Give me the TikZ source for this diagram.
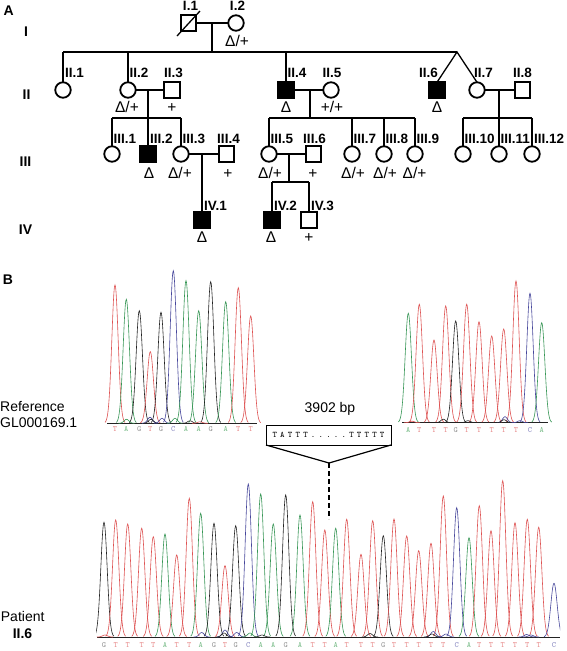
\documentclass[tikz,border=0pt]{standalone}
\usepackage{fontspec}
\setmainfont{Liberation Sans}
\usetikzlibrary{calc}
\definecolor{trT}{RGB}{222,82,82}
\definecolor{trA}{RGB}{55,150,85}
\definecolor{trG}{RGB}{35,35,35}
\definecolor{trC}{RGB}{70,70,155}
\definecolor{ltT}{RGB}{232,140,140}
\definecolor{ltA}{RGB}{125,190,140}
\definecolor{ltG}{RGB}{150,150,150}
\definecolor{ltC}{RGB}{140,140,195}
\newcommand\seqch[1]{\makebox[7.67pt]{#1}}
\begin{document}
\begin{tikzpicture}[x=1pt,y=-1pt,
  sym/.style={draw, line width=1.8pt, inner sep=0pt, outer sep=0pt, minimum size=15.5pt},
  male/.style={sym, rectangle},
  female/.style={sym, circle},
  aff/.style={fill=black},
  pline/.style={line width=1.3pt},
  lab/.style={font=\fontsize{13.5}{15}\selectfont\bfseries, inner sep=0pt},
  geno/.style={font=\fontsize{15.5}{17}\selectfont, inner sep=0pt, anchor=base},
  gen/.style={font=\fontsize{14}{16}\selectfont\bfseries, inner sep=0pt, anchor=base},
  side/.style={font=\fontsize{14}{16}\selectfont, inner sep=0pt, anchor=base west},
  seq/.style={font=\fontsize{8}{9}\selectfont\ttfamily, inner sep=0pt, anchor=base},
  trace/.style={line width=0.6pt},
]
\useasboundingbox (0,0) rectangle (567,651);
\fill[white] (0,0) rectangle (567,651);

% panel letters and generations
\node[gen] (pA) at (8.7,15) {A};
\node[gen] (pB) at (8,284) {B};
\node[gen] (gI) at (26,36) {I};
\node[gen] (gII) at (26.5,99.3) {II};
\node[gen] (gIII) at (25.5,166) {III};
\node[gen] (gIV) at (25.5,234) {IV};

% ---------- pedigree symbols ----------
\node[male] (I1) at (188.5,23) {};
\node[female] (I2) at (236,23) {};
\draw[pline] ($(I1)+(-11.5,13)$) -- ($(I1)+(11.5,-12)$);

\node[female] (II1) at (63,90) {};
\node[female] (II2) at (128,90) {};
\node[male] (II3) at (172,90) {};
\node[male,aff] (II4) at (286,90) {};
\node[female] (II5) at (331,90) {};
\node[male,aff] (II6) at (437,90) {};
\node[female] (II7) at (477,90) {};
\node[male] (II8) at (522.5,90) {};

\node[female] (III1) at (112,154) {};
\node[male,aff] (III2) at (148,154) {};
\node[female] (III3) at (181,154) {};
\node[male] (III4) at (226.5,154) {};
\node[female] (III5) at (269,154) {};
\node[male] (III6) at (313.5,154) {};
\node[female] (III7) at (352,154) {};
\node[female] (III8) at (384,154) {};
\node[female] (III9) at (415,154) {};
\node[female] (III10) at (463,154) {};
\node[female] (III11) at (499,154) {};
\node[female] (III12) at (532,154) {};

\node[male,aff] (IV1) at (202,220) {};
\node[male,aff] (IV2) at (272,220) {};
\node[male] (IV3) at (309,220) {};

% ---------- pedigree lines ----------
\coordinate (mI) at (212,23);
\coordinate (sI) at (212,52);
\coordinate (tw) at (457,52);
\draw[pline] (I1.east) -- (I2.west);
\draw[pline] (mI) -- (sI);
\draw[pline] (II1.north |- sI) -- (tw);
\draw[pline] (II1.north) -- (II1.north |- sI);
\draw[pline] (II2.north) -- (II2.north |- sI);
\draw[pline] (II4.north) -- (II4.north |- sI);
\draw[pline] (II6.north) -- (tw) -- (II7.north);

\coordinate (m2) at (148,90);
\coordinate (s2) at (148,118);
\draw[pline] (II2.east) -- (II3.west);
\draw[pline] (m2) -- (s2);
\draw[pline] (III1.north |- s2) -- (III3.north |- s2);
\draw[pline] (III1.north) -- (III1.north |- s2);
\draw[pline] (III2.north) -- (III2.north |- s2);
\draw[pline] (III3.north) -- (III3.north |- s2);

\coordinate (m3) at (202,154);
\draw[pline] (III3.east) -- (III4.west);
\draw[pline] (m3) -- (IV1.north);

\coordinate (m4) at (310,90);
\coordinate (s4) at (310,118);
\draw[pline] (II4.east) -- (II5.west);
\draw[pline] (m4) -- (s4);
\draw[pline] (III5.north |- s4) -- (III9.north |- s4);
\draw[pline] (III5.north) -- (III5.north |- s4);
\draw[pline] (III7.north) -- (III7.north |- s4);
\draw[pline] (III8.north) -- (III8.north |- s4);
\draw[pline] (III9.north) -- (III9.north |- s4);

\coordinate (m5) at (289,154);
\coordinate (s5) at (289,182);
\draw[pline] (III5.east) -- (III6.west);
\draw[pline] (m5) -- (s5);
\draw[pline] (IV2.north |- s5) -- (IV3.north |- s5);
\draw[pline] (IV2.north) -- (IV2.north |- s5);
\draw[pline] (IV3.north) -- (IV3.north |- s5);

\coordinate (m7) at (499,90);
\coordinate (s7) at (499,118);
\draw[pline] (II7.east) -- (II8.west);
\draw[pline] (m7) -- (s7);
\draw[pline] (III10.north |- s7) -- (III12.north |- s7);
\draw[pline] (III10.north) -- (III10.north |- s7);
\draw[pline] (III11.north) -- (III11.north |- s7);
\draw[pline] (III12.north) -- (III12.north |- s7);

% ---------- pedigree labels ----------
\node[lab, anchor=base] (lI1) at (190.5,10) {I.1};
\node[lab, anchor=base] (lI2) at (237.5,10) {I.2};
\node[lab, anchor=base west] (lII1) at (65,77.3) {II.1};
\node[lab, anchor=base west] (lII2) at (129.5,77.3) {II.2};
\node[lab, anchor=base] (lII3) at (173.5,77.3) {II.3};
\node[lab, anchor=base west] (lII4) at (287.5,77.3) {II.4};
\node[lab, anchor=base] (lII5) at (332,77.3) {II.5};
\node[lab, anchor=base] (lII6) at (428.5,77.3) {II.6};
\node[lab, anchor=base west] (lII7) at (474,77.3) {II.7};
\node[lab, anchor=base] (lII8) at (522.5,77.3) {II.8};
\node[lab, anchor=base west] (lIII1) at (113.5,143.3) {III.1};
\node[lab, anchor=base west] (lIII2) at (150,143.3) {III.2};
\node[lab, anchor=base west] (lIII3) at (182.5,143.3) {III.3};
\node[lab, anchor=base] (lIII4) at (228.5,143.3) {III.4};
\node[lab, anchor=base west] (lIII5) at (270.5,143.3) {III.5};
\node[lab, anchor=base] (lIII6) at (314.5,143.3) {III.6};
\node[lab, anchor=base west] (lIII7) at (353.5,143.3) {III.7};
\node[lab, anchor=base west] (lIII8) at (385.5,143.3) {III.8};
\node[lab, anchor=base west] (lIII9) at (416.5,143.3) {III.9};
\node[lab, anchor=base west] (lIII10) at (464.5,143.3) {III.10};
\node[lab, anchor=base west] (lIII11) at (500.5,143.3) {III.11};
\node[lab, anchor=base west] (lIII12) at (534,143.3) {III.12};
\node[lab, anchor=base west] (lIV1) at (204,210) {IV.1};
\node[lab, anchor=base west] (lIV2) at (274,210) {IV.2};
\node[lab, anchor=base west] (lIV3) at (311,210) {IV.3};

% genotypes
\node[geno] (gtI2) at (237,46.5) {Δ/+};
\node[geno] (gtII2) at (127,112.5) {Δ/+};
\node[geno] (gtII3) at (172,112.5) {+};
\node[geno] (gtII4) at (286,112.5) {Δ};
\node[geno] (gtII5) at (332,112.5) {+/+};
\node[geno] (gtII6) at (437,112.5) {Δ};
\node[geno] (gtIII2) at (149,178.5) {Δ};
\node[geno] (gtIII3) at (180,178.5) {Δ/+};
\node[geno] (gtIII4) at (228,178.5) {+};
\node[geno] (gtIII5) at (270,178.5) {Δ/+};
\node[geno] (gtIII6) at (313,178.5) {+};
\node[geno] (gtIII7) at (353,178.5) {Δ/+};
\node[geno] (gtIII8) at (385,178.5) {Δ/+};
\node[geno] (gtIII9) at (414.5,178.5) {Δ/+};
\node[geno] (gtIV1) at (202,242.5) {Δ};
\node[geno] (gtIV2) at (271,242.5) {Δ};
\node[geno] (gtIV3) at (309,242.5) {+};

% ---------- panel B texts ----------
\node[side] (ref1) at (0,411.7) {Reference};
\node[side] (ref2) at (0,427.3) {GL000169.1};
\node[side] (pat1) at (0.7,621.7) {Patient};
\node[gen] (pat2) at (22.5,638.3) {II.6};
\node[font=\fontsize{14}{16}\selectfont, inner sep=0pt, anchor=base] (bp) at (330,412.7) {3902 bp};

% ---------- reference chromatogram, left ----------
\draw[trG, line width=0.5pt] (107,423.3) -- (257,423.3);
\foreach \nuc/\px/\py in {T/115/285, A/126.3/299.3, G/139.3/310.7, T/150.3/351.7, G/161/312.3, C/173.3/270.7, A/186/280.7, A/198.7/310.7, G/210.7/281.7, A/225.7/301.7, T/238.3/287.7, T/250.7/316} {
  \draw[trace, draw=tr\nuc] plot[domain=-10:10, samples=41, smooth] ({\px+\x},{423.3-(423.3-\py)*exp(-\x*\x/20)});
  \node[seq, text=lt\nuc] at (\px,431.7) {\nuc};
}
\foreach \nuc/\px/\h in {A/126.5/4, C/150/6, G/151/4, C/162/5, A/175/5, G/190/2.5, T/200/1.5} {
  \draw[trace, draw=tr\nuc] plot[domain=-8:8, samples=17, smooth] ({\px+\x},{423.3-\h*exp(-\x*\x/12)});
}

% ---------- reference chromatogram, right ----------
\draw[trG, line width=0.5pt] (402,422.7) -- (548,422.7);
\foreach \nuc/\px/\py in {A/408.3/313.3, T/419.3/304.3, T/434/340, T/445.7/306, G/455.7/321, T/466.7/304.3, T/479/321.7, T/491.7/336, T/503.7/329, T/516/281, C/530/293.3, A/541.7/322.7} {
  \draw[trace, draw=tr\nuc] plot[domain=-10:10, samples=41, smooth] ({\px+\x},{422.7-(422.7-\py)*exp(-\x*\x/20)});
  \node[seq, text=lt\nuc] at (\px,432.3) {\nuc};
}
\foreach \nuc/\px/\h in {G/443.3/3.5, C/505/6, G/504/3, C/520/2, G/468/2, T/412/1.5} {
  \draw[trace, draw=tr\nuc] plot[domain=-8:8, samples=17, smooth] ({\px+\x},{422.7-\h*exp(-\x*\x/12)});
}

% ---------- patient chromatogram ----------
\begin{scope}
\clip (96,460) rectangle (560,640);
\draw[trG, line width=0.5pt] (97,637) -- (560,637);
\foreach \nuc/\px/\py in {G/104/522.3, T/115.7/520, T/127.7/524, T/141.7/528.3, T/153.3/536.7, A/165/534, T/176.7/555, T/189.3/498.3, A/200.7/513.3, G/214/523.3, T/225/565.7, G/235.7/525.7, C/248.3/484, A/260.7/494, A/273.3/524, G/285.7/495, A/300/515, T/312.7/501.7, T/324.8/530, A/335.7/528.3, T/346.7/519.3, T/361/554.3, T/372.7/520.7, G/383.3/535.7, T/394/519, T/406.7/536, T/418.7/550.7, T/431/543.3, T/443.3/496, C/456.7/507.7, A/469/537.7, T/479.3/505.7, T/491/530.7, T/502.7/480.7, T/515/522.7, T/527.3/519.3, T/538.7/527.3, C/554/583.3} {
  \draw[trace, draw=tr\nuc] plot[domain=-10:10, samples=41, smooth] ({\px+\x},{637-(637-\py)*exp(-\x*\x/20)});
}
\foreach \nuc/\px/\h in {T/105/2, C/201.7/4.5, C/225/7, G/224/4, C/236.7/4.5, A/250/4, G/262/2, G/370/3.5, C/433.3/5.5, G/432/3, C/446/3, C/526.7/2.5, C/531/2} {
  \draw[trace, draw=tr\nuc] plot[domain=-8:8, samples=17, smooth] ({\px+\x},{637-\h*exp(-\x*\x/12)});
}
\end{scope}
\foreach \nuc/\px in {G/104, T/115.7, T/127.7, T/141.7, T/153.3, A/165, T/176.7, T/189.3, A/200.7, G/214, T/225, G/235.7, C/248.3, A/260.7, A/273.3, G/285.7, A/300, T/312.7, T/324.8, A/335.7, T/346.7, T/361, T/372.7, G/383.3, T/394, T/406.7, T/418.7, T/431, T/443.3, C/456.7, A/469, T/479.3, T/491, T/502.7, T/515, T/527.3, T/538.7, C/554} {
  \node[seq, text=lt\nuc] at (\px,647.3) {\nuc};
}

% ---------- deletion box ----------
\node[draw, line width=1pt, minimum width=125pt, minimum height=20pt, inner sep=0pt, outer sep=0pt, font=\fontsize{8.5}{9}\selectfont\ttfamily] (box) at (328.5,435) {\seqch{T}\seqch{A}\seqch{T}\seqch{T}\seqch{T}\seqch{.}\seqch{.}\seqch{.}\seqch{.}\seqch{.}\seqch{T}\seqch{T}\seqch{T}\seqch{T}\seqch{T}};
\coordinate (apex) at (329,463);
\coordinate (dend) at (329,519);
\draw[line width=1.2pt] (box.south west) -- (apex) -- (box.south east);
\draw[line width=2.5pt, dash pattern=on 5pt off 3pt] (apex) -- (dend);
\end{tikzpicture}
\end{document}
